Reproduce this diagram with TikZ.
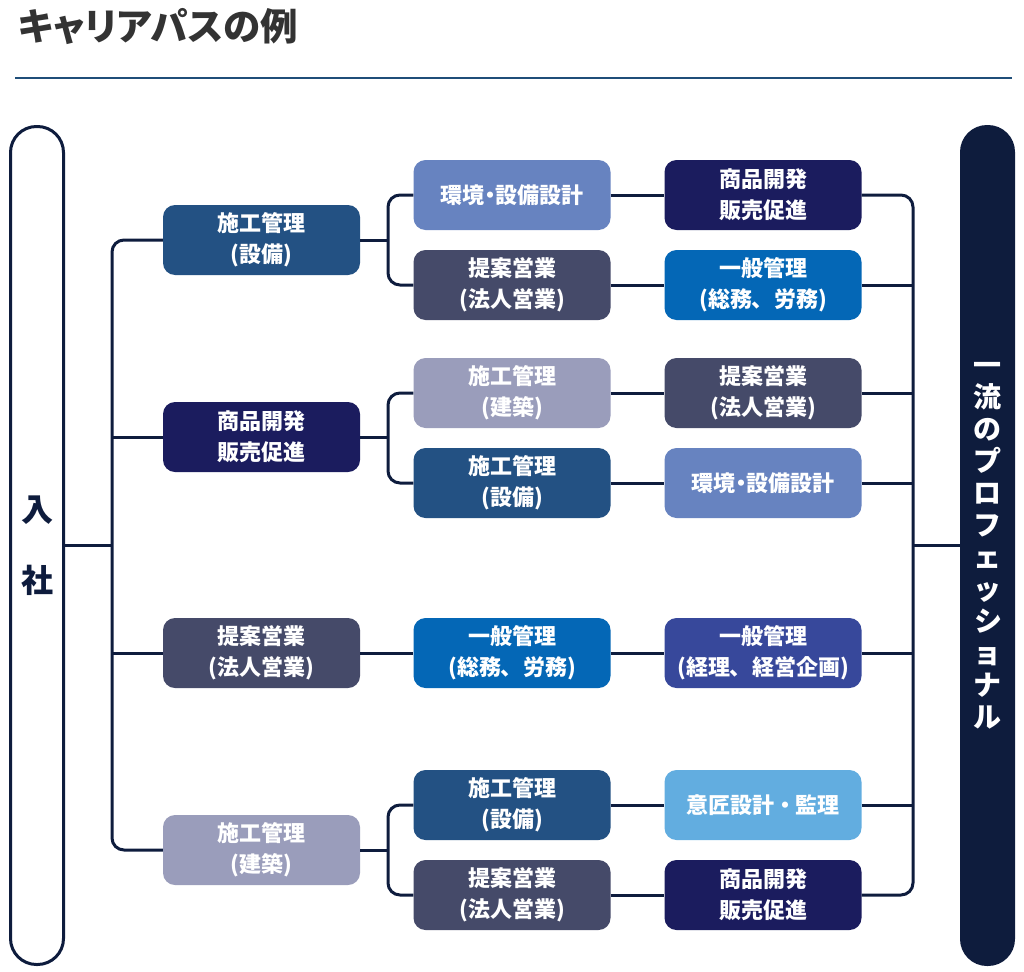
\documentclass[tikz,border=0pt]{standalone}
\usepackage{fontspec}
\setmainfont{Noto Sans CJK JP}[RawFeature=+palt]
\usetikzlibrary{positioning}
\definecolor{titlegray}{HTML}{333333}
\definecolor{titleblue}{HTML}{1F4E79}
\definecolor{linknavy}{HTML}{0E1C3D}
\definecolor{setsubi}{HTML}{235183}
\definecolor{shohin}{HTML}{1B1C5E}
\definecolor{teian}{HTML}{454A69}
\definecolor{kenchiku}{HTML}{9A9DBB}
\definecolor{kankyo}{HTML}{6783C0}
\definecolor{soumu}{HTML}{0467B6}
\definecolor{keiri}{HTML}{37489B}
\definecolor{isho}{HTML}{62ADE0}
\tikzset{
  job/.style={rounded corners=12pt, minimum width=197pt, minimum height=70pt, inner sep=0pt,
    align=center, text=white, font=\bfseries\fontsize{22}{31}\selectfont},
  link/.style={draw=linknavy, line width=3pt, rounded corners=12pt},
}

\begin{document}
\begin{tikzpicture}[x=1pt, y=-1pt]
            \useasboundingbox (0,0) rectangle (1024,971);
            \node[anchor=west, text=titlegray, font=\bfseries\fontsize{37.5}{37.5}\selectfont] (title) at (15,27) {キャリアパスの例};
            \draw[titleblue, line width=2pt] (15,78) -- (1012,78);
            % start and goal
            \node[draw=linknavy, line width=3pt, fill=white, rounded corners=26pt, minimum width=53pt, minimum height=838pt, align=center, text=linknavy, font=\bfseries\fontsize{32}{71}\selectfont] (nyusha) at (37,545.5) {入\\社};
            \node[fill=linknavy, rounded corners=27pt, minimum width=55pt, minimum height=841pt, align=center, text=white, font=\bfseries\fontsize{28}{32}\selectfont] (pro) at (987.5,545.5) {一\\流\\の\\プ\\ロ\\フ\\ェ\\ッ\\シ\\ョ\\ナ\\ル};
            % first step
            \node[job, fill=setsubi] (a1) at (261.5,240) {施工管理\\(設備)};
            \node[job, fill=shohin] (a2) at (261.5,437) {商品開発\\販売促進};
            \node[job, fill=teian] (a3) at (261.5,653) {提案営業\\(法人営業)};
            \node[job, fill=kenchiku] (a4) at (261.5,850) {施工管理\\(建築)};
            % second step
            \node[job, fill=kankyo] (b1) at (512,195) {環境・設備設計};
            \node[job, fill=teian] (b2) at (512,285) {提案営業\\(法人営業)};
            \node[job, fill=kenchiku] (b3) at (512,393) {施工管理\\(建築)};
            \node[job, fill=setsubi] (b4) at (512,483) {施工管理\\(設備)};
            \node[job, fill=soumu] (b5) at (512,653) {一般管理\\(総務、\kern11pt 労務)};
            \node[job, fill=setsubi] (b6) at (512,805) {施工管理\\(設備)};
            \node[job, fill=teian] (b7) at (512,895) {提案営業\\(法人営業)};
            % third step
            \node[job, fill=shohin] (c1) at (763,195) {商品開発\\販売促進};
            \node[job, fill=soumu] (c2) at (763,285) {一般管理\\(総務、\kern11pt 労務)};
            \node[job, fill=teian] (c3) at (763,393) {提案営業\\(法人営業)};
            \node[job, fill=kankyo] (c4) at (763,483) {環境・設備設計};
            \node[job, fill=keiri] (c5) at (763,653) {一般管理\\(経理、\kern11pt 経営企画)};
            \node[job, fill=isho] (c6) at (763,805) {意匠設計\kern5pt・\kern5pt 監理};
            \node[job, fill=shohin] (c7) at (763,895) {商品開発\\販売促進};
            % connectors
            \coordinate (trunk) at (112,545.5);
            \coordinate (fork1) at (388,240);
            \coordinate (fork2) at (388,437);
            \coordinate (fork4) at (388,850);
            \coordinate (goal) at (913,545.5);
            \draw[link] (nyusha.east) -- (trunk);
            \draw[link] (a1.west) -| (trunk) |- (a4.west);
            \draw[link] (a2.west) -- (a2.west -| trunk);
            \draw[link] (a3.west) -- (a3.west -| trunk);
            \draw[link] (a1.east) -- (fork1);
            \draw[link] (b1.west) -| (fork1) |- (b2.west);
            \draw[link] (a2.east) -- (fork2);
            \draw[link] (b3.west) -| (fork2) |- (b4.west);
            \draw[link] (a3.east) -- (b5.west);
            \draw[link] (a4.east) -- (fork4);
            \draw[link] (b6.west) -| (fork4) |- (b7.west);
            \draw[link] (b1.east) -- (c1.west);
            \draw[link] (b2.east) -- (c2.west);
            \draw[link] (b3.east) -- (c3.west);
            \draw[link] (b4.east) -- (c4.west);
            \draw[link] (b5.east) -- (c5.west);
            \draw[link] (b6.east) -- (c6.west);
            \draw[link] (b7.east) -- (c7.west);
            \draw[link] (c1.east) -| (goal) |- (c7.east);
            \draw[link] (c2.east) -- (c2.east -| goal);
            \draw[link] (c3.east) -- (c3.east -| goal);
            \draw[link] (c4.east) -- (c4.east -| goal);
            \draw[link] (c5.east) -- (c5.east -| goal);
            \draw[link] (c6.east) -- (c6.east -| goal);
            \draw[link] (goal) -- (pro.west);
        \end{tikzpicture}
\end{document}
